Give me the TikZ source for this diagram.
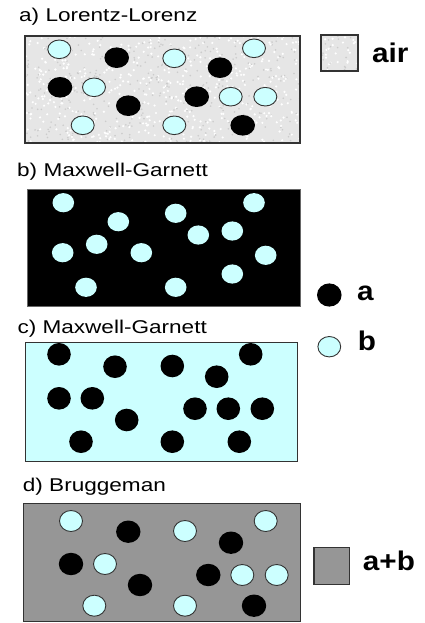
\documentclass[tikz,border=0pt]{standalone}
\usepackage{fontspec}
\setmainfont{Liberation Sans}
\newfontfamily\titlefont[FakeStretch=1.22]{Liberation Sans}
\newfontfamily\keyfont[FakeStretch=1.1]{Liberation Sans Bold}
\definecolor{ballcyan}{HTML}{CCFFFF}
\definecolor{airgray}{HTML}{E6E6E6}
\definecolor{mixgray}{HTML}{969696}
\definecolor{rim}{HTML}{333333}
\tikzset{
  title/.style={anchor=base west, inner sep=0pt, font=\titlefont\fontsize{18.5}{20}\selectfont},
  keytext/.style={anchor=base west, inner sep=0pt, font=\keyfont\fontsize{27}{29}\selectfont},
  panel/.style={draw=rim, line width=1.2pt},
  cyanball/.style={fill=ballcyan, draw=rim, line width=0.9pt},
  plaincyan/.style={fill=ballcyan},
  blackball/.style={fill=black},
}
% speckled "air" texture inside a rectangle; #5 = number of specks
\newcommand{\airfill}[5]{%
  \fill[airgray] (#1,#2) rectangle (#3,#4);
  \begin{scope}
    \clip (#1,#2) rectangle (#3,#4);
    \pgfmathsetseed{7}
    \foreach \k in {1,...,#5}{
      \pgfmathsetmacro\px{#1+(#3-#1)*rnd}
      \pgfmathsetmacro\py{#2+(#4-#2)*rnd}
      \pgfmathsetmacro\shade{rnd}
      \ifdim\shade pt<0.55pt
        \fill[white] (\px,\py) circle[radius=1.2];
      \else
        \fill[black!20] (\px,\py) circle[radius=0.9];
      \fi
    }
  \end{scope}}
\begin{document}
\begin{tikzpicture}[x=1pt,y=-1pt]
\useasboundingbox[fill=white] (0,0) rectangle (425,623);

% ---------- a) Lorentz-Lorenz ----------
\node[title] (ta) at (19,21.5) {a) Lorentz-Lorenz};
\airfill{25}{36}{300}{143}{900}
\draw[panel] (25,36) rectangle (300,143);
\foreach \x/\y in {59.3/49.3, 174.3/58.3, 254/48.3, 94/87.3, 230.7/96.7, 265.3/96.7, 82.7/125.3, 174.3/125.3}
  \path[cyanball] (\x,\y) ellipse[x radius=11.5, y radius=9.3];
\foreach \x/\y in {116.7/57.7, 220/67.7, 60/87.3, 128.3/105.7, 196.7/96.7, 242.7/125.3}
  \path[blackball] (\x,\y) ellipse[x radius=12.3, y radius=10.3];

% legend: air
\airfill{321}{35}{358}{71}{42}
\draw[panel, line width=1.5pt] (321,35) rectangle (358,71);
\node[keytext] (lair) at (372,63) {air};

% ---------- b) Maxwell-Garnett (a host) ----------
\node[title] (tb) at (17,176) {b) Maxwell-Garnett};
\fill[black] (27.5,189.3) rectangle (300.5,306.7);
\draw[black!60, line width=0.6pt] (27.5,189.3) rectangle (300.5,306.7);
\foreach \x/\y in {63.3/202.7, 118.3/221.7, 175.7/213.3, 254/202.7, 198.3/235, 232.3/231, 62.7/252.7, 96.7/244.3, 141.3/252.7, 265.7/255.3, 232.3/274, 86/287.3, 175.7/287.3}
  \path[plaincyan] (\x,\y) ellipse[x radius=10.8, y radius=9.6];

% legend: a
\path[blackball] (329.3,295) ellipse[x radius=12.3, y radius=11.6];
\node[keytext] (la) at (357,300.5) {a};

% ---------- c) Maxwell-Garnett (b host) ----------
\node[title] (tc) at (17.3,333) {c) Maxwell-Garnett};
\fill[ballcyan] (25,342.3) rectangle (297.3,461.7);
\draw[panel, line width=1pt] (25,342.3) rectangle (297.3,461.7);
\foreach \x/\y in {59/354.3, 115/366.7, 172.3/366, 250.7/354.3, 216.7/376.7, 59/398.3, 92.3/398.3, 126.7/420, 195/408.7, 228.3/408.7, 262.3/408.7, 81/441.7, 172.3/441.7, 239.3/441.7}
  \path[blackball] (\x,\y) ellipse[x radius=11.8, y radius=11.3];

% legend: b
\path[cyanball] (329.3,346.7) ellipse[x radius=11.4, y radius=10.2];
\node[keytext] (lb) at (357.7,350.7) {b};

% ---------- d) Bruggeman ----------
\node[title] (td) at (22.7,491.5) {d) Bruggeman};
\fill[mixgray] (23.3,503.3) rectangle (300,621.7);
\draw[panel, line width=1pt] (23.3,503.3) rectangle (300,621.7);
\foreach \x/\y in {71/521, 185/531, 265.7/521, 105/564, 242.3/575, 276.7/575, 94.3/605.7, 185/605.7}
  \path[cyanball] (\x,\y) ellipse[x radius=11.5, y radius=10.5];
\foreach \x/\y in {128.3/531.7, 231/542.7, 71/564, 140/585, 208.3/575, 254/605.7}
  \path[blackball] (\x,\y) ellipse[x radius=12.2, y radius=11.2];

% legend: a+b
\fill[mixgray] (314,547.3) rectangle (349.3,584.3);
\draw[panel, line width=1.5pt] (314,547.3) rectangle (349.3,584.3);
\node[keytext] (lab) at (362.7,570.7) {a+b};
\end{tikzpicture}
\end{document}
